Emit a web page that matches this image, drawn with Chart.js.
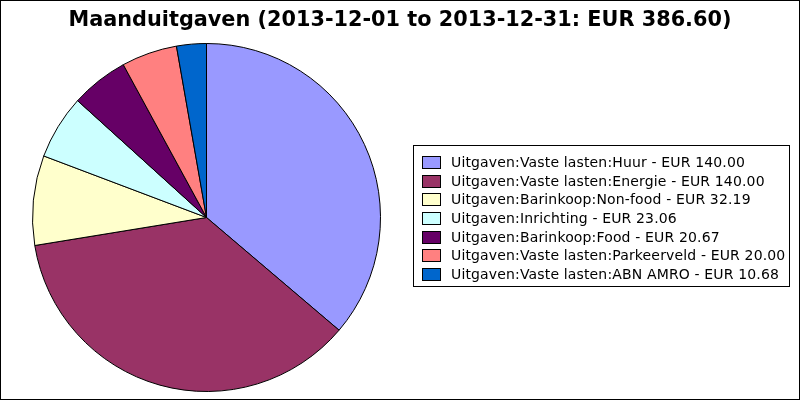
<!DOCTYPE html>
<html>
<head>
<meta charset="utf-8">
<script src="https://cdn.jsdelivr.net/npm/chart.js@4/dist/chart.umd.min.js"></script>
<style>
html,body{margin:0;padding:0;background:#fff;}
#wrap{position:relative;width:800px;height:400px;}
canvas{display:block;}
</style>
</head>
<body>
<div id="wrap"><canvas id="c" width="800" height="400"></canvas></div>
<script>
const titleText = "Maanduitgaven (2013-12-01 to 2013-12-31: EUR 386.60)";
const categories = [
  "Uitgaven:Vaste lasten:Huur",
  "Uitgaven:Vaste lasten:Energie",
  "Uitgaven:Barinkoop:Non-food",
  "Uitgaven:Inrichting",
  "Uitgaven:Barinkoop:Food",
  "Uitgaven:Vaste lasten:Parkeerveld",
  "Uitgaven:Vaste lasten:ABN AMRO"
];
const amounts = [140.00, 140.00, 32.19, 23.06, 20.67, 20.00, 10.68];
const currency = "EUR";
const sliceColors = ["#9999ff", "#993366", "#ffffcc", "#ccffff", "#660066", "#ff8080", "#0066cc"];

const decorPlugin = {
  id: 'decor',
  afterDraw(chart) {
    const ctx = chart.ctx;
    ctx.save();
    ctx.strokeStyle = '#000';
    ctx.lineWidth = 1;
    ctx.strokeRect(0.5, 0.5, 799, 399);
    ctx.fillStyle = '#000';
    ctx.font = 'bold 20.8px "DejaVu Sans"';
    ctx.textAlign = 'center';
    ctx.textBaseline = 'middle';
    ctx.fillText(titleText, 400, 21);
    const bx = 413.5, by = 145.5, bw = 376, bh = 141;
    ctx.fillStyle = '#fff';
    ctx.fillRect(bx, by, bw, bh);
    ctx.strokeStyle = '#000';
    ctx.strokeRect(bx, by, bw, bh);
    ctx.beginPath();
    ctx.rect(bx, by, bw, bh);
    ctx.clip();
    ctx.font = '14px "DejaVu Sans"';
    ctx.letterSpacing = '0.15px';
    ctx.textAlign = 'left';
    ctx.textBaseline = 'middle';
    const labels = chart.data.labels;
    const ds = chart.data.datasets[0];
    const pitch = 18.67;
    labels.forEach((lab, i) => {
      const y = 156 + i * pitch;
      ctx.fillStyle = ds.backgroundColor[i];
      ctx.fillRect(422.5, Math.round(y) + 0.5, 18, 12);
      ctx.strokeStyle = '#000';
      ctx.strokeRect(422.5, Math.round(y) + 0.5, 18, 12);
      ctx.fillStyle = '#000';
      ctx.fillText(lab + ' - ' + currency + ' ' + ds.data[i].toFixed(2), 451, Math.round(y) + 7);
    });
    ctx.restore();
  }
};

new Chart(document.getElementById('c'), {
  type: 'pie',
  data: {
    labels: categories,
    datasets: [{
      data: amounts,
      backgroundColor: sliceColors,
      borderColor: '#000',
      borderWidth: 1
    }]
  },
  options: {
    responsive: false,
    animation: false,
    layout: { padding: { left: 32, top: 43, right: 419, bottom: 8 } },
    plugins: {
      legend: { display: false },
      title: { display: false },
      tooltip: { enabled: false }
    }
  },
  plugins: [decorPlugin]
});
</script>
</body>
</html>
